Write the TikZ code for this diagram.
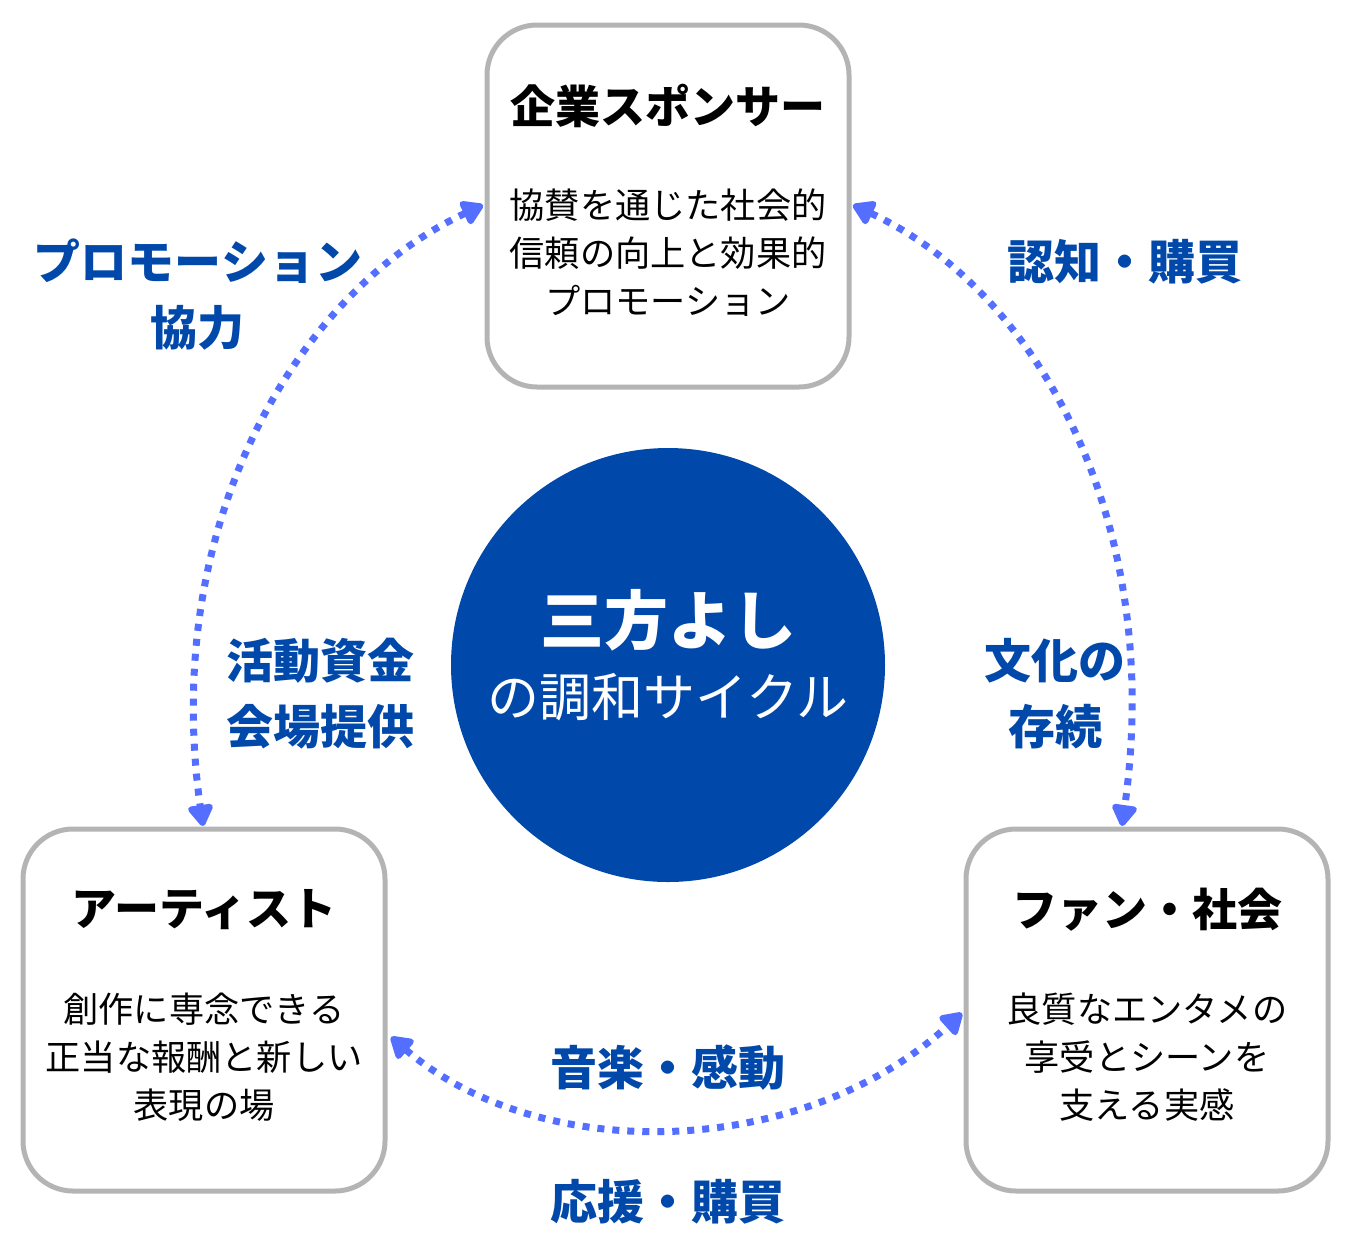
\documentclass[tikz,border=0pt]{standalone}
\usepackage{fontspec}
\setmainfont{Noto Sans CJK JP}
\usepackage{color}
\definecolor{myblue}{RGB}{0,72,170}
\definecolor{mydots}{RGB}{84,110,255}
\definecolor{mygray}{RGB}{180,180,180}
\usepackage{tikz}
\usetikzlibrary{arrows.meta,positioning}
\tikzstyle{party}=[draw=mygray,line width=2.5pt,fill=white,rounded corners=25pt,minimum width=181pt,minimum height=181pt]
\tikzstyle{title}=[font=\fontsize{22.5}{26}\selectfont\bfseries]
\tikzstyle{body}=[font=\fontsize{17.6}{24}\selectfont,align=center]
\tikzstyle{flow}=[font=\fontsize{23.5}{33}\selectfont\bfseries,text=myblue,align=center]
\tikzstyle{dotline}=[draw=mydots,line width=3.5pt,dash pattern=on 3.5pt off 4pt,{Triangle[length=12pt,width=14pt,round]}-{Triangle[length=12pt,width=14pt,round]}]

\begin{document}
\begin{tikzpicture}[x=0.5pt,y=-0.5pt]
\useasboundingbox (0,0) rectangle (1350,1250);
% the three parties
\draw (668, 206) node [party] (sponsor) {};
\draw (204, 1010) node [party] (artist) {};
\draw (1147, 1010) node [party] (fans) {};
\draw (668, 106) node [title] (sponsort) {企業スポンサー};
\draw (668, 253) node [body] (sponsorb) {協賛を通じた社会的\\信頼の向上と効果的\\プロモーション};
\draw (204, 910) node [title] (artistt) {アーティスト};
\draw (204, 1057) node [body] (artistb) {創作に専念できる\\正当な報酬と新しい\\表現の場};
\draw (1147, 910) node [title] (fanst) {ファン・社会};
\draw (1147, 1057) node [body] (fansb) {良質なエンタメの\\享受とシーンを\\支える実感};
% center
\draw (668, 665) node [circle,fill=myblue,minimum size=217pt,inner sep=0pt] (hub) {};
\draw (668, 620) node [text=white,font=\fontsize{32}{36}\selectfont\bfseries] (hubt) {三方よし};
\draw (668, 697) node [text=white,font=\fontsize{26}{30}\selectfont] (hubb) {の調和サイクル};
% cycle
\coordinate (s1) at (483, 205);
\coordinate (a1) at (203, 826);
\coordinate (s2) at (853, 205);
\coordinate (f2) at (1122, 826);
\coordinate (a3) at (391, 1037);
\coordinate (f3) at (962, 1013);
\draw[dotline] (s1) .. controls (300, 290) and (160, 520) .. (a1);
\draw[dotline] (s2) .. controls (1036, 290) and (1165, 520) .. (f2);
\draw[dotline] (a3) .. controls (540, 1165) and (800, 1160) .. (f3);
% labels
\draw (198, 295) node [flow] (l1) {プロモーション\\協力};
\draw (1125, 262) node [flow] (l2) {認知・購買};
\draw (320, 694) node [flow] (l3) {活動資金\\会場提供};
\draw (1055, 694) node [flow] (l4) {文化の\\存続};
\draw (668, 1068) node [flow] (l5) {音楽・感動};
\draw (668, 1202) node [flow] (l6) {応援・購買};
\end{tikzpicture}
\end{document}
